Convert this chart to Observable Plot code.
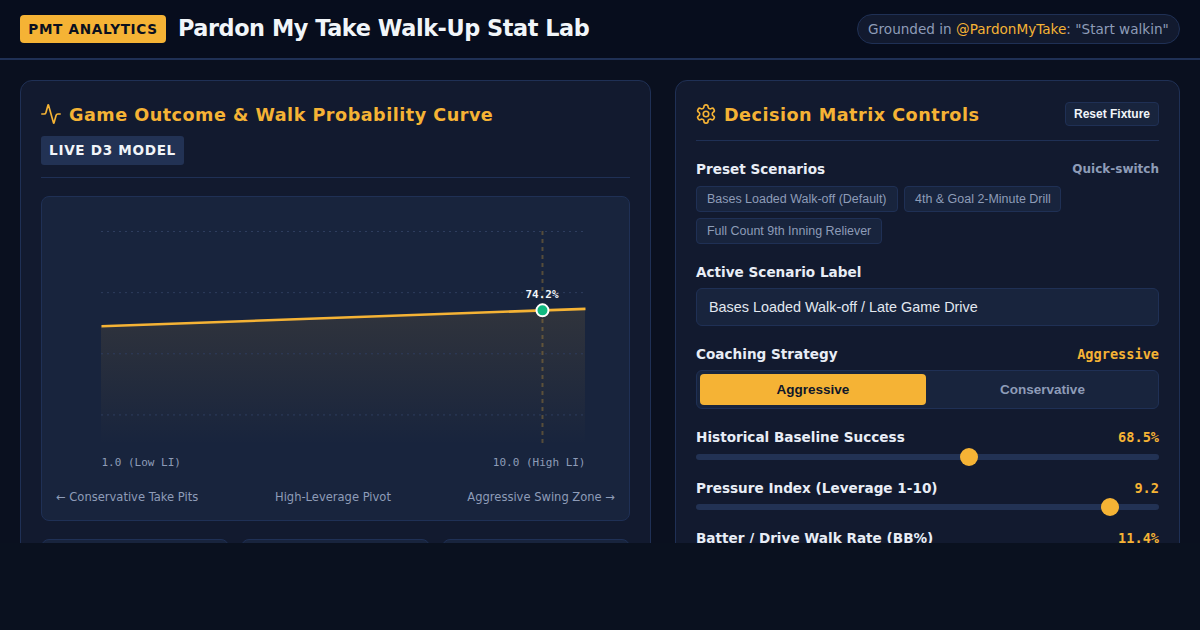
<!DOCTYPE html>
<html><head><meta charset="utf-8">
<script src="https://cdn.jsdelivr.net/npm/d3@7"></script>
<script src="https://cdn.jsdelivr.net/npm/@observablehq/plot@0.6"></script>
<style>
*{box-sizing:border-box}
html,body{margin:0;padding:0;width:1200px;height:630px;overflow:hidden;background:#0a111f;font-family:"DejaVu Sans",sans-serif;color:#f1f5f9}
#page{position:absolute;left:0;top:0;width:1200px;height:543px;overflow:hidden;background:#0a101f}
.a{position:absolute;white-space:nowrap}
.arial{font-family:"Liberation Sans",Arial,sans-serif}
.mono{font-family:"DejaVu Sans Mono",monospace}
#header{left:0;top:0;width:1200px;height:60px;background:#070d1d;border-bottom:2px solid #1f3055}
.panel{background:#121a2f;border:1px solid #1f3055;border-radius:12px}
.amber{color:#f5b335}
.h2{font-size:17.6px;font-weight:700;letter-spacing:.5px;color:#f5b335;line-height:24px}
.lab{font-size:13.6px;font-weight:700;color:#e8edf6;line-height:18px}
.val{font-family:"DejaVu Sans Mono",monospace;font-size:13.6px;font-weight:700;color:#f5b335;line-height:18px}
.chip{height:26px;line-height:24px;background:#18243d;border:1px solid #1f3055;border-radius:4px;font-family:"Liberation Sans",Arial,sans-serif;font-size:12.48px;color:#8e9cb8;padding:0 10px}
.track{height:6px;left:696px;width:463px;background:#223254;border-radius:3px}
.thumb{width:18px;height:18px;border-radius:50%;background:#f5b335}
.card{background:#18243d;border:1px solid #1f3055;border-radius:8px;height:40px;top:539px}
.hr{height:1px;background:#1f3055}
.cap{top:489px;font-size:11.52px;line-height:16px;color:#8e9cb8}
</style></head><body>
<div id="page">
  <div class="a" id="header"></div>
  <div class="a" style="left:20px;top:15px;height:28px;width:146px;background:#f5b335;border-radius:4px;font-weight:700;font-size:13.6px;letter-spacing:.68px;color:#0a101f;line-height:28px;text-align:center">PMT ANALYTICS</div>
  <div class="a" id="title" style="left:178px;top:12px;font-size:22.4px;font-weight:700;line-height:33px;color:#f1f5f9;letter-spacing:-.45px">Pardon My Take Walk-Up Stat Lab</div>
  <div class="a" style="left:857px;top:14px;width:323px;height:30px;background:#121a2f;border:1px solid #1f3055;border-radius:15px;font-size:13.6px;line-height:28px;padding-left:10px;color:#8e9cb8">Grounded in <span class="amber">@PardonMyTake</span>: "Start walkin"</div>

  <div class="a panel" style="left:20px;top:80px;width:631px;height:520px"></div>
  <svg class="a" style="left:40px;top:103px" width="22" height="22" viewBox="0 0 24 24" fill="none" stroke="#f5b335" stroke-width="1.8" stroke-linecap="round" stroke-linejoin="round"><path d="M22 12h-2.48a2 2 0 0 0-1.93 1.46l-2.35 8.36a.25.25 0 0 1-.48 0L9.24 2.18a.25.25 0 0 0-.48 0l-2.35 8.36A2 2 0 0 1 4.49 12H2"/></svg>
  <div class="a h2" style="left:69px;top:103px">Game Outcome &amp; Walk Probability Curve</div>
  <div class="a" style="left:41px;top:136px;width:143px;height:29px;background:#223254;border-radius:3px;font-size:13.6px;font-weight:700;letter-spacing:.68px;line-height:28px;text-align:center;color:#f1f5f9">LIVE D3 MODEL</div>
  <div class="a hr" style="left:41px;top:177px;width:589px"></div>

  <div class="a" style="left:41px;top:196px;width:589px;height:325px;background:#18243d;border:1px solid #1f3055;border-radius:8px"></div>
  <div class="a" id="chart" style="left:42px;top:197px"></div>
  <div class="a cap" style="left:56px">← Conservative Take Pits</div>
  <div class="a cap" style="left:275px">High-Leverage Pivot</div>
  <div class="a cap" style="right:585px">Aggressive Swing Zone →</div>
  <div class="a card" style="left:41px;width:188px"></div>
  <div class="a card" style="left:241px;width:189px"></div>
  <div class="a card" style="left:442px;width:188px"></div>

  <div class="a panel" style="left:675px;top:80px;width:505px;height:520px"></div>
  <svg class="a" style="left:695px;top:103px" width="22" height="22" viewBox="0 0 24 24" fill="none" stroke="#f5b335" stroke-width="1.8" stroke-linecap="round" stroke-linejoin="round"><path d="M12.22 2h-.44a2 2 0 0 0-2 2v.18a2 2 0 0 1-1 1.73l-.43.25a2 2 0 0 1-2 0l-.15-.08a2 2 0 0 0-2.73.73l-.22.38a2 2 0 0 0 .73 2.73l.15.1a2 2 0 0 1 1 1.72v.51a2 2 0 0 1-1 1.74l-.15.09a2 2 0 0 0-.73 2.73l.22.38a2 2 0 0 0 2.73.73l.15-.08a2 2 0 0 1 2 0l.43.25a2 2 0 0 1 1 1.73V20a2 2 0 0 0 2 2h.44a2 2 0 0 0 2-2v-.18a2 2 0 0 1 1-1.73l.43-.25a2 2 0 0 1 2 0l.15.08a2 2 0 0 0 2.73-.73l.22-.39a2 2 0 0 0-.73-2.73l-.15-.08a2 2 0 0 1-1-1.74v-.5a2 2 0 0 1 1-1.74l.15-.09a2 2 0 0 0 .73-2.73l-.22-.38a2 2 0 0 0-2.73-.73l-.15.08a2 2 0 0 1-2 0l-.43-.25a2 2 0 0 1-1-1.73V4a2 2 0 0 0-2-2z"/><circle cx="12" cy="12" r="3"/></svg>
  <div class="a h2" style="left:724px;top:103px">Decision Matrix Controls</div>
  <div class="a arial" style="left:1065px;top:102px;width:94px;height:24px;background:#18243d;border:1px solid #1f3055;border-radius:4px;font-size:12px;font-weight:700;line-height:22px;text-align:center;color:#f1f5f9">Reset Fixture</div>
  <div class="a hr" style="left:696px;top:140px;width:463px"></div>

  <div class="a lab" style="left:696px;top:160px">Preset Scenarios</div>
  <div class="a" style="right:41px;top:160px;font-size:12px;font-weight:700;line-height:18px;color:#8e9cb8">Quick-switch</div>
  <div class="a chip" style="left:696px;top:186px">Bases Loaded Walk-off (Default)</div>
  <div class="a chip" style="left:904px;top:186px;width:157px">4th &amp; Goal 2-Minute Drill</div>
  <div class="a chip" style="left:696px;top:218px">Full Count 9th Inning Reliever</div>

  <div class="a lab" style="left:696px;top:263px">Active Scenario Label</div>
  <div class="a arial" style="left:696px;top:288px;width:463px;height:38px;background:#18243d;border:1px solid #1f3055;border-radius:6px;font-size:14.4px;line-height:36px;padding-left:12px;color:#e2e8f0">Bases Loaded Walk-off / Late Game Drive</div>

  <div class="a lab" style="left:696px;top:345px">Coaching Strategy</div>
  <div class="a val" style="right:41px;top:345px">Aggressive</div>
  <div class="a" style="left:696px;top:370px;width:463px;height:39px;background:#18243d;border:1px solid #1f3055;border-radius:6px"></div>
  <div class="a arial" style="left:700px;top:374px;width:226px;height:31px;background:#f5b335;border-radius:4px;font-size:13.5px;font-weight:700;line-height:31px;text-align:center;color:#0f172a">Aggressive</div>
  <div class="a arial" style="left:930px;top:374px;width:225px;height:31px;font-size:13.5px;font-weight:700;line-height:31px;text-align:center;color:#8e9cb8">Conservative</div>

  <div class="a lab" style="left:696px;top:428px">Historical Baseline Success</div>
  <div class="a val" style="right:41px;top:428px">68.5%</div>
  <div class="a track" style="top:454px"></div>
  <div class="a thumb" style="left:960px;top:448px"></div>

  <div class="a lab" style="left:696px;top:479px">Pressure Index (Leverage 1-10)</div>
  <div class="a val" style="right:41px;top:479px">9.2</div>
  <div class="a track" style="top:504px"></div>
  <div class="a thumb" style="left:1101px;top:498px"></div>

  <div class="a lab" style="left:696px;top:529px">Batter / Drive Walk Rate (BB%)</div>
  <div class="a val" style="right:41px;top:529px">11.4%</div>
</div>
<script>
const leverage = [1, 10];
const probability = [69, 74.7];
const gridValues = [40, 60, 80, 100];
const endLabels = ["1.0 (Low LI)", "10.0 (High LI)"];
const currentLeverage = [9.2];
const currentProbability = [74.2];
const currentLabel = ["74.2%"];
const yBase = 30, yTop = 100;

const curve = leverage.map((x, i) => ({x, y: probability[i]}));
const now = currentLeverage.map((x, i) => ({x, y: currentProbability[i], label: currentLabel[i]}));
const ends = leverage.map((x, i) => ({x, label: endLabels[i]}));
const mono = "'DejaVu Sans Mono', monospace";

const plot = Plot.plot({
  width: 587, height: 280,
  marginLeft: 59, marginRight: 44, marginTop: 34, marginBottom: 32,
  style: {background: "transparent", overflow: "visible"},
  x: {domain: [1, 10], axis: null},
  y: {domain: [yBase, yTop], axis: null},
  marks: [
    () => {
      const s = d3.create("svg:linearGradient").attr("id", "fade").attr("x1", 0).attr("x2", 0).attr("y1", 0).attr("y2", 1);
      s.append("stop").attr("offset", "0%").attr("stop-color", "#f5b335").attr("stop-opacity", 0.11);
      s.append("stop").attr("offset", "100%").attr("stop-color", "#f5b335").attr("stop-opacity", 0);
      const g = d3.create("svg:defs"); g.node().appendChild(s.node());
      return g.node();
    },
    Plot.areaY(curve, {x: "x", y1: yBase, y2: "y", fill: "url(#fade)"}),
    Plot.ruleY(gridValues, {stroke: "#2e3d5e", strokeWidth: 1, strokeDasharray: "2,4"}),
    Plot.ruleX(currentLeverage, {stroke: "#f5b335", strokeOpacity: 0.28, strokeWidth: 2, strokeDasharray: "4,4"}),
    Plot.line(curve, {x: "x", y: "y", stroke: "#f5b335", strokeWidth: 2.6, strokeLinecap: "butt"}),
    Plot.dot(now, {x: "x", y: "y", r: 6, fill: "#10b981", stroke: "#ffffff", strokeWidth: 2}),
    Plot.text(now, {x: "x", y: "y", text: "label", dy: -16, dx: -0.5, fill: "#f1f5f9", fontSize: 11, fontWeight: 700, fontFamily: mono}),
    Plot.text(ends.slice(0, 1), {x: "x", y: yBase, text: "label", dy: 17, textAnchor: "start", fill: "#8e9cb8", fontSize: 11, fontFamily: mono}),
    Plot.text(ends.slice(1), {x: "x", y: yBase, text: "label", dy: 17, textAnchor: "end", fill: "#8e9cb8", fontSize: 11, fontFamily: mono})
  ]
});
document.getElementById("chart").appendChild(plot);
</script>
</body></html>
